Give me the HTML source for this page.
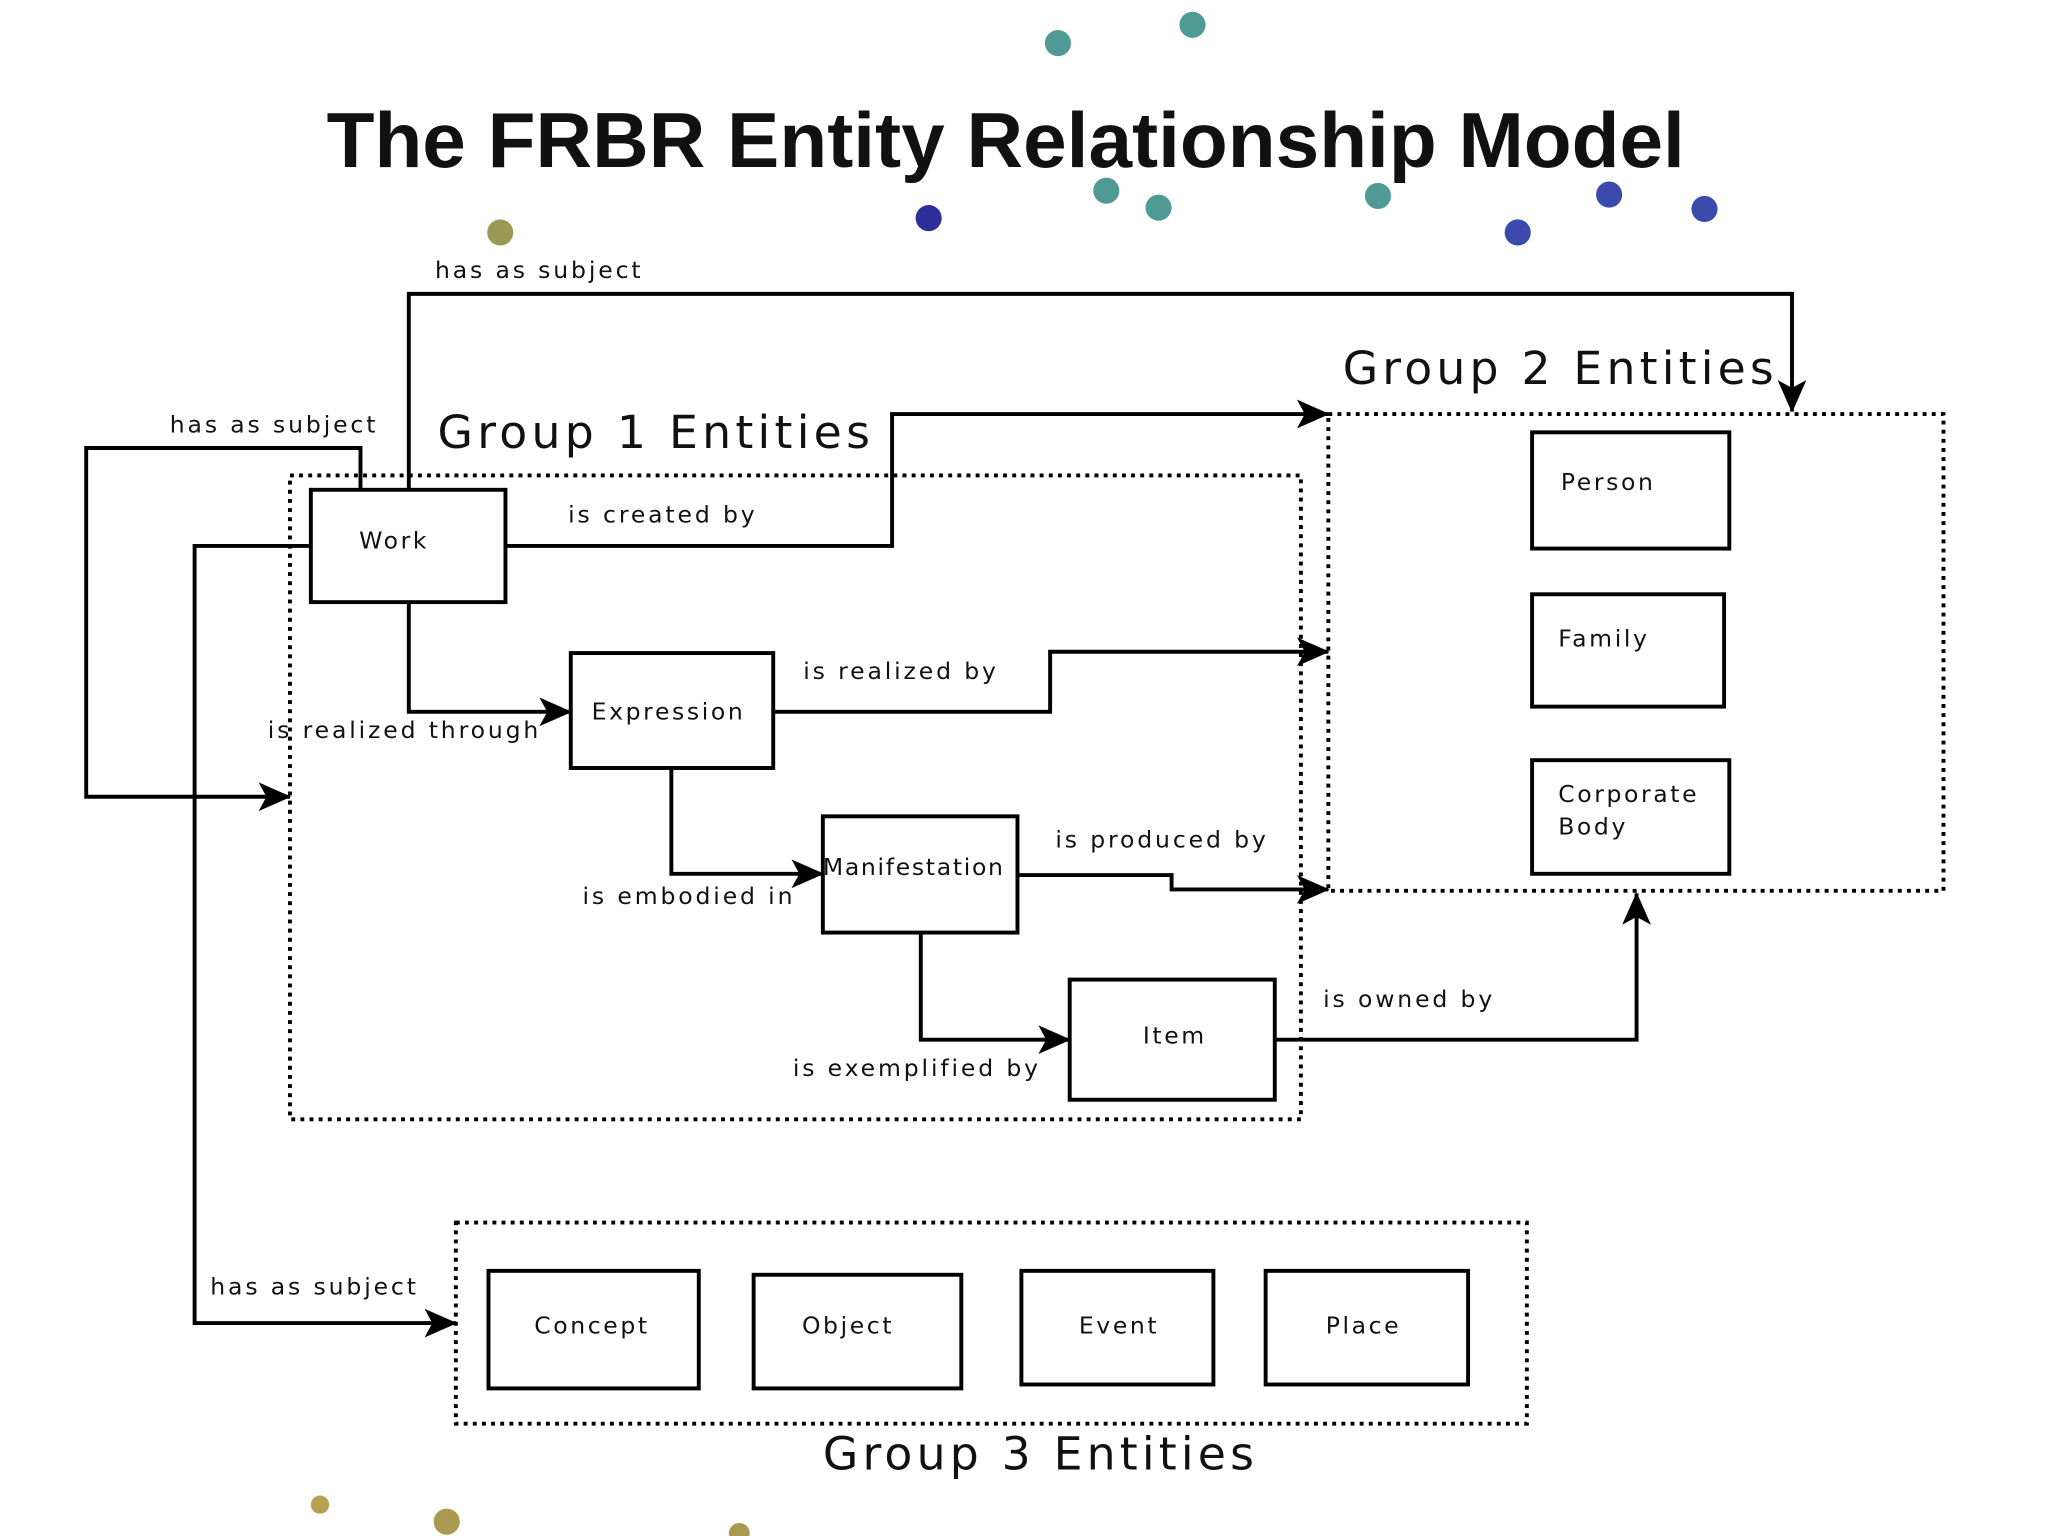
<!DOCTYPE html>
<html><head><meta charset="utf-8"><style>
html,body{margin:0;padding:0;background:#fff;}
svg{display:block;}
text{font-family:"DejaVu Sans","Liberation Sans",sans-serif;fill:#111;}
</style></head><body>
<svg width="2048" height="1536" viewBox="0 0 1568 1176" xmlns="http://www.w3.org/2000/svg">
<defs>
<marker id="b" markerWidth="26" markerHeight="22" refX="24" refY="11" orient="auto" markerUnits="userSpaceOnUse">
<path d="M0,0 L25,11 L0,22 L6,11 Z" fill="#000"/></marker>
</defs>
<rect width="1568" height="1176" fill="#fff"/>
<g>
<circle cx="810" cy="33" r="10" fill="#4f9a95"/>
<circle cx="913" cy="19" r="10" fill="#4f9a95"/>
<circle cx="847" cy="146" r="10" fill="#4f9a95"/>
<circle cx="887" cy="159" r="10" fill="#4f9a95"/>
<circle cx="1055" cy="150" r="10" fill="#4f9a95"/>
<circle cx="383" cy="178" r="10" fill="#9a9a55"/>
<circle cx="711" cy="167" r="10" fill="#2e2e9a"/>
<circle cx="1232" cy="149" r="10" fill="#3a4aaa"/>
<circle cx="1305" cy="160" r="10" fill="#3a4aaa"/>
<circle cx="1162" cy="178" r="10" fill="#3a4aaa"/>
<circle cx="342" cy="1165" r="10" fill="#a89a50"/>
<circle cx="245" cy="1152" r="7" fill="#b8a050"/>
<circle cx="566" cy="1174" r="8" fill="#a89a50"/>
</g>
<text x="770" y="128" text-anchor="middle" style="font-family:'Liberation Sans',sans-serif;font-weight:bold;font-size:60px">The FRBR Entity Relationship Model</text>

<g fill="none" stroke="#000" stroke-width="3" stroke-dasharray="3,4">
<rect x="222" y="364" width="774" height="493"/>
<rect x="1017" y="317" width="471" height="365"/>
<rect x="349" y="936" width="820" height="154"/>
</g>
<text x="335" y="343" textLength="331" lengthAdjust="spacing" style="font-size:35px">Group 1 Entities</text>
<text x="1028" y="294" textLength="330" lengthAdjust="spacing" style="font-size:35px">Group 2 Entities</text>
<text x="630" y="1125" textLength="330" lengthAdjust="spacing" style="font-size:35px">Group 3 Entities</text>

<g fill="#fff" stroke="#000" stroke-width="3">
<rect x="238" y="375" width="149" height="86"/>
<rect x="437" y="500" width="155" height="88"/>
<rect x="630" y="625" width="149" height="89"/>
<rect x="819" y="750" width="157" height="92"/>
<rect x="1173" y="331" width="151" height="89"/>
<rect x="1173" y="455" width="147" height="86"/>
<rect x="1173" y="582" width="151" height="87"/>
<rect x="374" y="973" width="161" height="90"/>
<rect x="577" y="976" width="159" height="87"/>
<rect x="782" y="973" width="147" height="87"/>
<rect x="969" y="973" width="155" height="87"/>
</g>
<g style="font-size:18px;letter-spacing:2px">
<text x="275" y="420">Work</text>
<text x="453" y="551">Expression</text>
<text x="630" y="670" style="letter-spacing:1.3px">Manifestation</text>
<text x="875" y="799">Item</text>
<text x="1195" y="375">Person</text>
<text x="1193" y="495">Family</text>
<text x="1193" y="614">Corporate</text>
<text x="1193" y="639">Body</text>
<text x="409" y="1021">Concept</text>
<text x="614" y="1021">Object</text>
<text x="826" y="1021">Event</text>
<text x="1015" y="1021">Place</text>
</g>

<g fill="none" stroke="#000" stroke-width="3">
<polyline points="313,375 313,225 1372,225 1372,315" marker-end="url(#b)"/>
<polyline points="276,375 276,343 66,343 66,610 222,610" marker-end="url(#b)"/>
<polyline points="387,418 683,418 683,317 1017,317" marker-end="url(#b)"/>
<polyline points="238,418 149,418 149,1013 349,1013" marker-end="url(#b)"/>
<polyline points="313,461 313,545 437,545" marker-end="url(#b)"/>
<polyline points="592,545 804,545 804,499 1017,499" marker-end="url(#b)"/>
<polyline points="514,588 514,669 630,669" marker-end="url(#b)"/>
<polyline points="779,670 897,670 897,681 1017,681" marker-end="url(#b)"/>
<polyline points="705,714 705,796 819,796" marker-end="url(#b)"/>
<polyline points="976,796 1253,796 1253,684" marker-end="url(#b)"/>
</g>

<g style="font-size:18px;letter-spacing:2.2px">
<text x="333" y="213">has as subject</text>
<text x="130" y="331">has as subject</text>
<text x="435" y="400">is created by</text>
<text x="615" y="520">is realized by</text>
<text x="205" y="565">is realized through</text>
<text x="808" y="649">is produced by</text>
<text x="446" y="692">is embodied in</text>
<text x="1013" y="771">is owned by</text>
<text x="607" y="824">is exemplified by</text>
<text x="161" y="991">has as subject</text>
</g>
</svg>
</body></html>
